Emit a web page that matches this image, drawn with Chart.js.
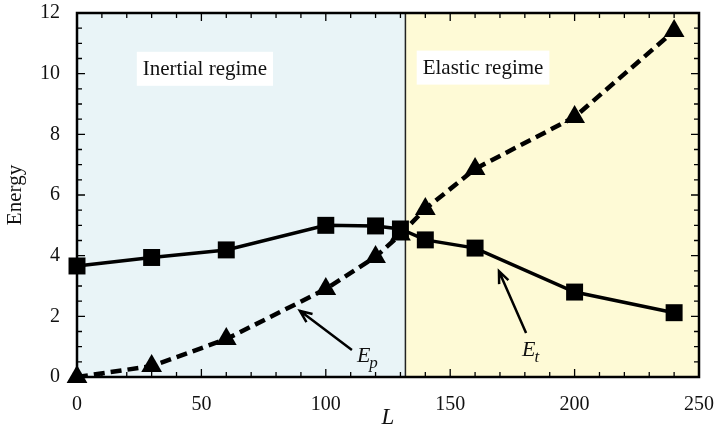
<!DOCTYPE html>
<html>
<head>
<meta charset="utf-8">
<script src="https://cdn.jsdelivr.net/npm/chart.js@4"></script>
<style>
  html, body { margin: 0; padding: 0; background: #fff; }
  #wrap { width: 714px; height: 432px; }
</style>
</head>
<body>
<div id="wrap"><canvas id="energyChart" width="714" height="432"></canvas></div>
<script>
// values
const lengths = [0, 30, 60, 100, 120, 130, 140, 160, 200, 240];
const totalEnergy = [3.66, 3.94, 4.19, 5.0, 4.98, 4.88, 4.52, 4.25, 2.8, 2.12];
const potentialEnergy = [0.0, 0.36, 1.25, 2.9, 3.96, 4.7, 5.54, 6.86, 8.57, 11.41];

const xTicks = [0, 50, 100, 150, 200, 250];
const yTicks = [0, 2, 4, 6, 8, 10, 12];
const regimeSplit = 132;
const regimeLabels = ['Inertial regime', 'Elastic regime'];

const serif = '"Liberation Serif", "Times New Roman", serif';

// background regions, frame, inward ticks, labels and arrows
const decorations = {
    id: 'decorations',
    beforeDatasetsDraw(chart) {
        const { ctx, chartArea: a, scales: { x, y } } = chart;
        const split = x.getPixelForValue(regimeSplit);
        ctx.save();
        ctx.fillStyle = '#e9f4f7';
        ctx.fillRect(a.left, a.top, split - a.left, a.bottom - a.top);
        ctx.fillStyle = '#fefad6';
        ctx.fillRect(split, a.top, a.right - split, a.bottom - a.top);

        ctx.strokeStyle = '#222';
        ctx.lineWidth = 1.5;
        ctx.beginPath();
        ctx.moveTo(split, a.top);
        ctx.lineTo(split, a.bottom);
        ctx.stroke();

        // regime labels in white boxes
        ctx.font = '21px ' + serif;
        ctx.textAlign = 'center';
        ctx.textBaseline = 'middle';
        [[51.4, 10.16, regimeLabels[0]], [163.2, 10.2, regimeLabels[1]]].forEach(([lx, ly, t]) => {
            const px = x.getPixelForValue(lx), py = y.getPixelForValue(ly);
            const w = ctx.measureText(t).width + 12;
            ctx.fillStyle = '#fff';
            ctx.fillRect(px - w / 2, py - 17, w, 34);
            ctx.fillStyle = '#111';
            ctx.fillText(t, px, py + 1);
        });

        // arrows
        ctx.strokeStyle = '#000';
        ctx.lineWidth = 2.5;
        const arrow = (x0, y0, x1, y1) => {
            const ax = x.getPixelForValue(x0), ay = y.getPixelForValue(y0);
            const bx = x.getPixelForValue(x1), by = y.getPixelForValue(y1);
            const ang = Math.atan2(by - ay, bx - ax);
            ctx.beginPath();
            ctx.moveTo(ax, ay);
            ctx.lineTo(bx, by);
            ctx.moveTo(bx - 13 * Math.cos(ang - 0.4), by - 13 * Math.sin(ang - 0.4));
            ctx.lineTo(bx, by);
            ctx.lineTo(bx - 13 * Math.cos(ang + 0.4), by - 13 * Math.sin(ang + 0.4));
            ctx.stroke();
        };
        arrow(110.5, 0.89, 89.6, 2.18);
        arrow(180.5, 1.45, 169.6, 3.49);

        // E_p and E_t
        ctx.fillStyle = '#111';
        ctx.textAlign = 'left';
        ctx.textBaseline = 'alphabetic';
        const sub = (lx, ly, s) => {
            const px = x.getPixelForValue(lx), py = y.getPixelForValue(ly);
            ctx.font = 'italic 22px ' + serif;
            ctx.fillText('E', px, py);
            const w = ctx.measureText('E').width;
            ctx.font = 'italic 17px ' + serif;
            ctx.fillText(s, px + w - 1, py + 6);
        };
        sub(112.5, 0.49, 'p');
        sub(178.9, 0.69, 't');
        ctx.restore();
    },
    afterDatasetsDraw(chart) {
        const { ctx, chartArea: a, scales: { x, y } } = chart;
        ctx.save();
        ctx.strokeStyle = '#000';
        ctx.lineWidth = 1.3;
        ctx.beginPath();
        for (let v = 0; v <= 250; v += 10) {
            const px = x.getPixelForValue(v);
            const len = v % 50 === 0 ? 8 : 5;
            ctx.moveTo(px, a.bottom); ctx.lineTo(px, a.bottom - len);
            ctx.moveTo(px, a.top); ctx.lineTo(px, a.top + len);
        }
        for (let v = 0; v <= 12; v += 0.5) {
            const py = y.getPixelForValue(v);
            const len = v % 2 === 0 ? 8 : 5;
            ctx.moveTo(a.left, py); ctx.lineTo(a.left + len, py);
            ctx.moveTo(a.right, py); ctx.lineTo(a.right - len, py);
        }
        ctx.stroke();
        ctx.lineWidth = 2.5;
        ctx.strokeRect(a.left, a.top, a.right - a.left, a.bottom - a.top);
        ctx.restore();
    }
};

const ctx = document.getElementById('energyChart').getContext('2d');
const chart = new Chart(ctx, {
    type: 'line',
    data: {
        datasets: [{
            label: 'E_t',
            data: lengths.map((l, i) => ({ x: l, y: totalEnergy[i] })),
            borderColor: '#000',
            backgroundColor: '#000',
            borderWidth: 3.5,
            pointStyle: 'rect',
            pointRadius: 12,
            pointBorderWidth: 0,
            fill: false,
            tension: 0
        }, {
            label: 'E_p',
            data: lengths.map((l, i) => ({ x: l, y: potentialEnergy[i] })),
            borderColor: '#000',
            backgroundColor: '#000',
            borderWidth: 4.5,
            borderDash: [11, 6],
            pointStyle: 'triangle',
            pointRadius: 12,
            pointBorderWidth: 0,
            fill: false,
            tension: 0
        }]
    },
    options: {
        responsive: false,
        animation: false,
        clip: false,
        layout: { padding: { left: 0, right: 15, top: 13, bottom: 0 } },
        plugins: { legend: { display: false }, tooltip: { enabled: false } },
        scales: {
            x: {
                type: 'linear',
                min: 0,
                max: 250,
                afterFit: s => { s.height = 55; s.paddingLeft = 0; s.paddingRight = 0; },
                afterBuildTicks: s => { s.ticks = xTicks.map(v => ({ value: v })); },
                grid: { display: false },
                border: { display: false },
                ticks: { color: '#111', padding: 8, maxRotation: 0, font: { family: serif, size: 20 } },
                title: { display: true, text: 'L', color: '#111', padding: { top: 0, bottom: 0 },
                         font: { family: serif, size: 23, style: 'italic' } }
            },
            y: {
                min: 0,
                max: 12,
                afterFit: s => { s.width = 77; s.paddingTop = 0; s.paddingBottom = 0; },
                afterBuildTicks: s => { s.ticks = yTicks.map(v => ({ value: v })); },
                grid: { display: false },
                border: { display: false },
                ticks: { color: '#111', padding: 9, font: { family: serif, size: 20 } },
                title: { display: true, text: 'Energy', color: '#111', padding: { top: 3, bottom: 0 },
                         font: { family: serif, size: 21 } }
            }
        }
    },
    plugins: [decorations]
});
</script>
</body>
</html>
